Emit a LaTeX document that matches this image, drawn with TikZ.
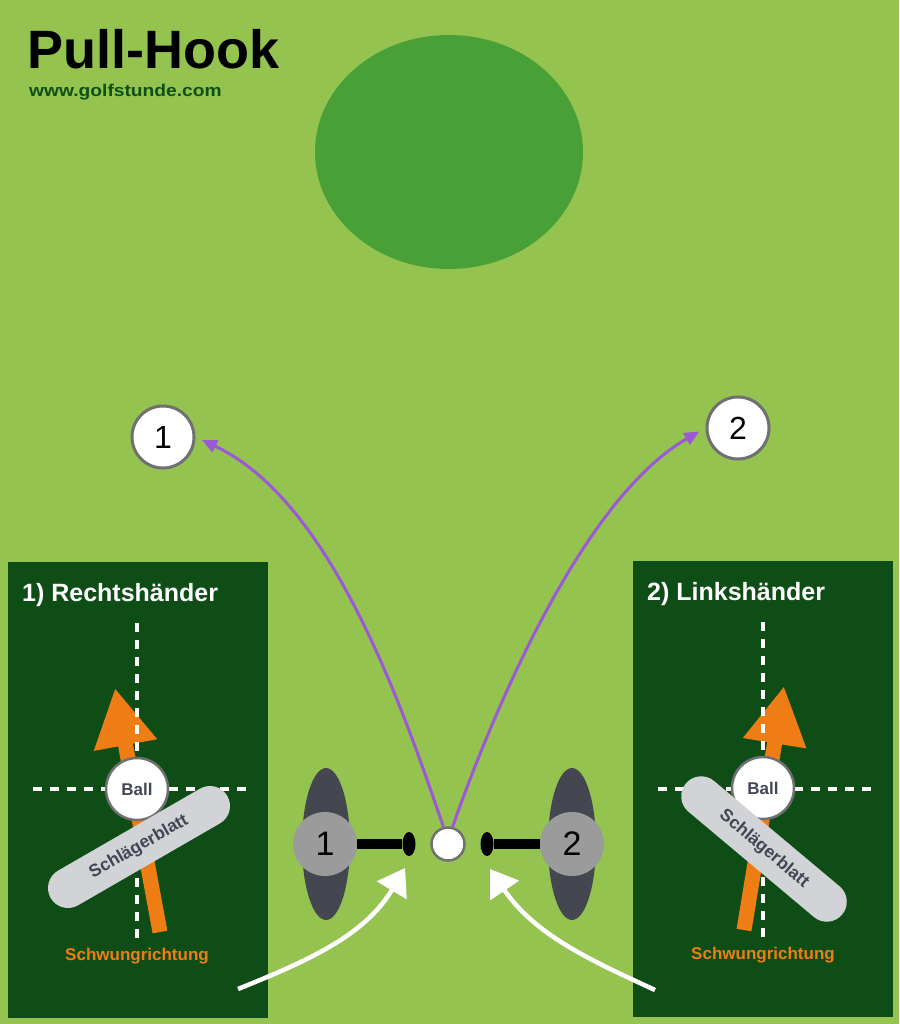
\documentclass[tikz,border=0pt]{standalone}
\usepackage{fontspec}
\setmainfont{Liberation Sans}
\usetikzlibrary{shapes.geometric,arrows.meta}
\definecolor{fairway}{RGB}{148,195,80}
\definecolor{green}{RGB}{73,160,54}
\definecolor{panelgreen}{RGB}{15,77,22}
\definecolor{webgreen}{RGB}{14,80,20}
\definecolor{swingorange}{RGB}{238,125,22}
\definecolor{bladegray}{RGB}{210,211,215}
\definecolor{bladetext}{RGB}{66,70,84}
\definecolor{rimgray}{RGB}{112,112,112}
\definecolor{footgray}{RGB}{69,71,80}
\definecolor{playergray}{RGB}{155,155,155}
\definecolor{flightpurple}{RGB}{155,89,214}
\begin{document}
\begin{tikzpicture}[x=1pt,y=-1pt,
  cross/.style={white,line width=4.5pt,dash pattern=on 9pt off 8pt},
  swing/.style={swingorange,line width=15pt,-{Triangle[length=58pt,width=60pt]}},
  ballmark/.style={circle,draw=rimgray,line width=2.5pt,fill=white,minimum size=62pt,inner sep=0pt,text=bladetext,font=\bfseries\fontsize{17}{17}\selectfont},
  blade/.style={rectangle,rounded corners=20pt,fill=bladegray,minimum width=204pt,minimum height=40pt,inner sep=0pt,text=bladetext,font=\bfseries\fontsize{17.5}{17.5}\selectfont},
  heading/.style={anchor=base west,inner sep=0pt,text=white,font=\bfseries\fontsize{25}{25}\selectfont},
  swingtext/.style={anchor=base,inner sep=0pt,text=swingorange,font=\bfseries\fontsize{17}{17}\selectfont},
  foot/.style={ellipse,fill=footgray,minimum width=48pt,minimum height=152pt,inner sep=0pt},
  player/.style={circle,fill=playergray,minimum size=64pt,inner sep=0pt,font=\fontsize{34}{34}\selectfont},
  clubhead/.style={ellipse,fill=black,minimum width=13pt,minimum height=24pt,inner sep=0pt},
  shaft/.style={line width=10pt},
  flight/.style={flightpurple,line width=3pt,-{Triangle[length=15pt,width=13pt]},shorten >=7pt},
  chalk/.style={white,line width=4.5pt,-{Triangle[length=26pt,width=34pt]}},
  marker/.style={circle,draw=rimgray,line width=3pt,fill=white,minimum size=62pt,inner sep=0pt,font=\fontsize{32}{32}\selectfont}]
\fill[fairway] (0,0) rectangle (899,1024);
\useasboundingbox (0,0) rectangle (899,1024);
\fill[green] (449,152) ellipse [x radius=134, y radius=117];
\fill[panelgreen] (8,562) rectangle (268,1018);
\fill[panelgreen] (633,561) rectangle (893,1017);
\node[heading] (rechts) at (22,601) {1) Rechtshänder};
\node[heading] (links) at (647,600) {2) Linkshänder};
\draw[swing] (160,932) -- (115,688);
\draw[swing] (744,930) -- (784,686);
\draw[cross] (137,623) -- (137,942);
\draw[cross] (33,789) -- (248,789);
\draw[cross] (763,622) -- (763,940);
\draw[cross] (658,789) -- (873,789);
\node[ballmark] (ballL) at (137,789) {Ball};
\node[ballmark] (ballR) at (763,788) {Ball};
\node[blade,rotate=30] (blattL) at (139,847) {Schlägerblatt};
\node[blade,rotate=-40] (blattR) at (764,849) {Schlägerblatt};
\node[swingtext] (swingL) at (137,960) {Schwungrichtung};
\node[swingtext] (swingR) at (763,959) {Schwungrichtung};
\node[foot] (f1) at (326,844) {};
\node[foot] (f2) at (572,844) {};
\node[player] (p1) at (325,844) {1};
\node[player] (p2) at (572,844) {2};
\node[clubhead] (h1) at (409,844) {};
\node[clubhead] (h2) at (487,844) {};
\draw[shaft] (p1) -- (h1);
\draw[shaft] (p2) -- (h2);
\node[circle,draw=rimgray,line width=2.5pt,fill=white,minimum size=33pt,inner sep=0pt] (ball) at (448,844) {};
\node[marker] (n1) at (163,437) {1};
\node[marker] (n2) at (738,428) {2};
\draw[flight] (ball.105) .. controls (400,700) and (330,500) .. (n1.east);
\draw[flight] (ball.75) .. controls (490,720) and (580,500) .. (n2.west);
\coordinate (c1) at (238,989);
\coordinate (c2) at (655,990);
\coordinate (t1) at (405,868);
\coordinate (t2) at (490,869);
\draw[chalk] (c1) .. controls (310,960) and (365,935) .. (t1);
\draw[chalk] (c2) .. controls (590,960) and (535,935) .. (t2);
\node[anchor=base west,inner sep=0pt,font=\bfseries\fontsize{54}{54}\selectfont] (title) at (27,69) {Pull-Hook};
\node[anchor=base west,inner sep=0pt,text=webgreen,xscale=1.13,transform shape,font=\bfseries\fontsize{17}{17}\selectfont] (web) at (29,97) {www.golfstunde.com};
\end{tikzpicture}
\end{document}
